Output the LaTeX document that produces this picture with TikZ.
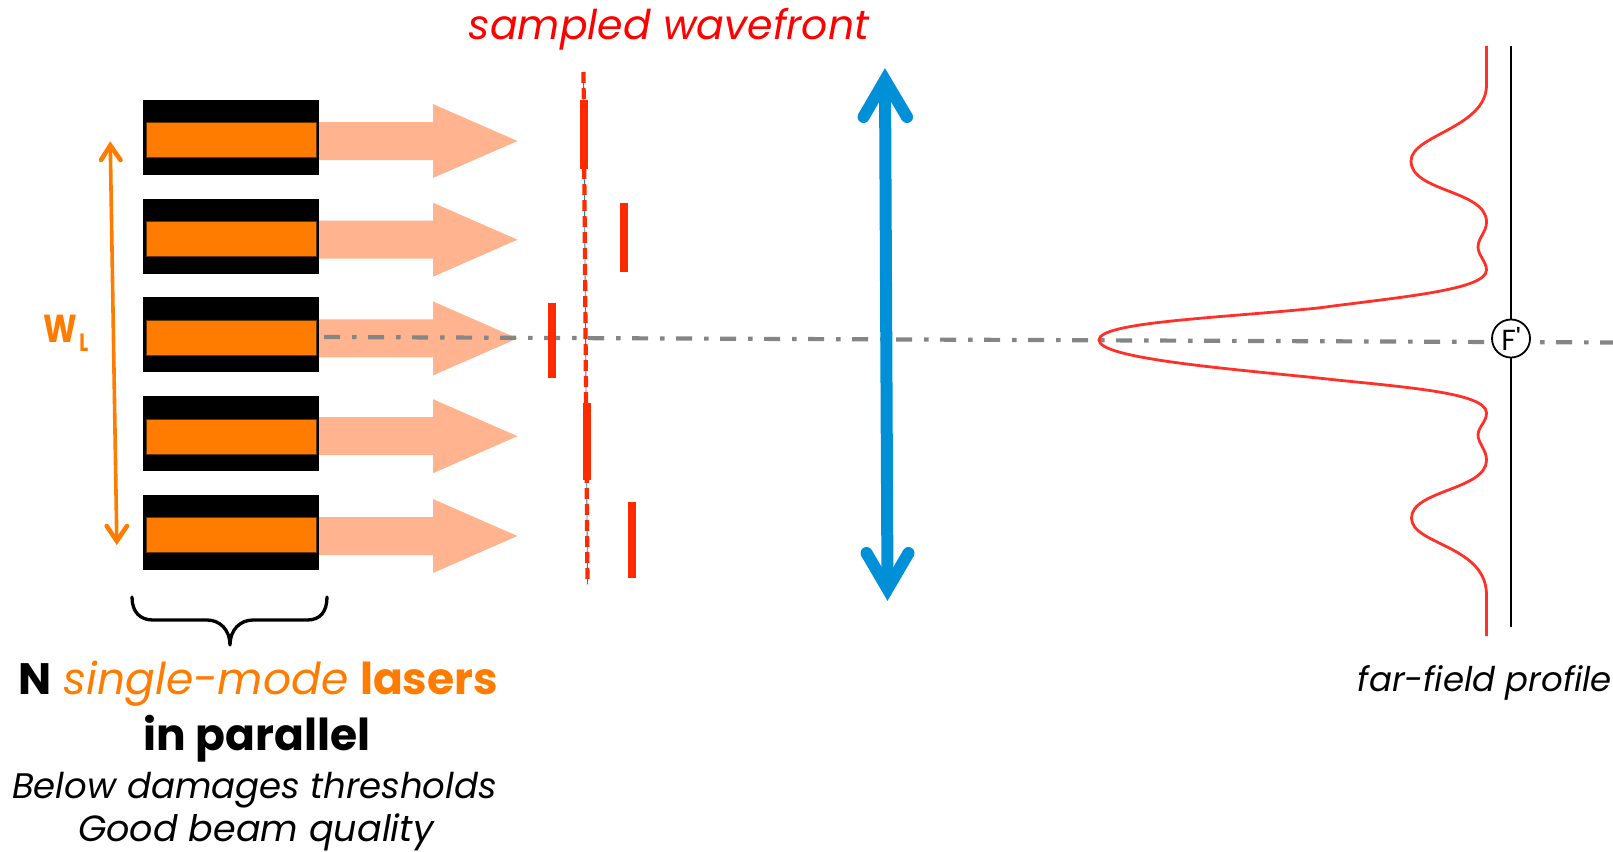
\documentclass[tikz,border=0pt]{standalone}
\usepackage{fontspec}
\setmainfont{Poppins}
\usetikzlibrary{calc}
\definecolor{lsrorange}{HTML}{FF7C00}
\definecolor{beampale}{HTML}{FFB48F}
\definecolor{barred}{HTML}{FF2A00}
\definecolor{curvered}{HTML}{FF3028}
\definecolor{axisgray}{HTML}{858585}
\definecolor{lensblue}{HTML}{0090D8}
\tikzset{x=1pt,y=-1pt,
  lsrbox/.style={fill=black,draw=none,minimum width=176pt,minimum height=75pt,inner sep=0pt,outer sep=0pt},
  lsrcore/.style={fill=lsrorange,draw=black!60!lsrorange,line width=.5pt,minimum width=170pt,minimum height=35pt,inner sep=0pt},
  beamarrow/.style={fill=beampale,draw=none},
  phasebar/.style={fill=barred,draw=none,minimum width=8pt,inner sep=0pt},
  lbl/.style={inner sep=0pt,anchor=base,align=center},
  lensline/.style={draw=lensblue,line width=12pt},
}
\begin{document}
\begin{tikzpicture}
\useasboundingbox (0,0) rectangle (1613,851);
% lasers and beams
\foreach \n/\t/\c in {1/99.8/141,2/198.5/239.7,3/297.3/338.4,4/396/436.2,5/494.8/536}{
  \fill[beamarrow] (319,\c-19) -- (433,\c-19) -- (433,\c-37) -- (517.5,\c) -- (433,\c+37) -- (433,\c+19) -- (319,\c+19) -- cycle;
  \node[lsrbox,anchor=north west] (box\n) at (143,\t) {};
  \node[lsrcore,anchor=north west] (core\n) at (146,\t+22.6) {};
}
% axis
\coordinate (axA) at (324,337);
\coordinate (axB) at (1613,342.5);
\draw[axisgray,line width=4.2pt,dash pattern=on 16pt off 12pt on 4.5pt off 11.5pt] (axA) -- (axB);
% sampled wavefront
\coordinate (wfA) at (583.5,72);
\coordinate (wfB) at (587.5,584);
\draw[lensblue,line width=.8pt] (wfA) -- (wfB);
\draw[barred,line width=4.2pt,dash pattern=on 11pt off 5pt] (wfA) -- (wfB);
\node[phasebar,minimum height=69pt] (bar1) at (583.5,134) {};
\node[phasebar,minimum height=69pt] (bar2) at (623.5,237) {};
\node[phasebar,minimum height=75pt] (bar3) at (551.5,340.5) {};
\node[phasebar,minimum height=77pt] (bar4) at (586.5,441) {};
\node[phasebar,minimum height=76pt] (bar5) at (631.5,539.5) {};
% lens
\coordinate (lensT) at (885,80);
\coordinate (lensB) at (887.5,589);
\draw[lensline] (lensT) -- (lensB);
\draw[lensline,line join=miter,miter limit=10] (863.5,117) -- (lensT) -- (907,117);
\draw[lensline,line join=miter,miter limit=10] (866.5,553) -- (lensB) -- (908.5,553);
\fill[lensblue] (863.5,117) circle (6pt) (907,117) circle (6pt) (866.5,553) circle (6pt) (908.5,553) circle (6pt);
% far field
\coordinate (ffA) at (1511,46);
\coordinate (ffB) at (1511,627);
\draw[black,line width=1.8pt] (ffA) -- (ffB);
\draw[curvered,line width=2.8pt] (1486.5,46) -- (1486.5,85)
 .. controls (1486.5,128) and (1411,135) .. (1411,161)
 .. controls (1411,192) and (1486.5,190) .. (1486.5,222)
 .. controls (1486.5,232) and (1478,238) .. (1478,247)
 .. controls (1478,255) and (1486.5,262) .. (1486.5,270)
 .. controls (1486.5,290) and (1400,297) .. (1318,308)
 .. controls (1220,318) and (1099,322) .. (1099,340)
 .. controls (1099,358) and (1220,368) .. (1318,378)
 .. controls (1400,387) and (1486.5,392) .. (1486.5,413)
 .. controls (1486.5,422) and (1478,427) .. (1478,435)
 .. controls (1478,443) and (1486.5,450) .. (1486.5,460)
 .. controls (1486.5,490) and (1411.5,490) .. (1411.5,518)
 .. controls (1411.5,545) and (1486.5,545) .. (1486.5,595)
 -- (1486.5,636);
\node[circle,draw=black,fill=white,line width=1.8pt,minimum size=38pt,inner sep=0pt,font=\fontsize{29}{29}\selectfont] (F) at (1511,338.5) {F\textquotesingle};
% WL arrow
\coordinate (wlT) at (110.3,145.5);
\coordinate (wlB) at (116.8,541);
\draw[lsrorange,line width=3.6pt] (wlT) -- (wlB);
\draw[lsrorange,line width=4.6pt,line cap=round,line join=miter,miter limit=10] (101,160) -- (wlT) -- (120.5,160);
\draw[lsrorange,line width=4.6pt,line cap=round,line join=miter,miter limit=10] (106.7,526) -- (wlB) -- (127,526);
\node[lbl,text=lsrorange,anchor=base west,font=\fontsize{39}{39}\selectfont\bfseries] (wl) at (43.5,342) {\scalebox{.82}[1]{W}\hspace{2pt}\raisebox{-9pt}{\fontsize{25}{25}\selectfont\scalebox{.75}[1]{L}}};
% brace
\coordinate (brTip) at (230,645);
\draw[black,line width=3.3pt,line join=round,line cap=round] (132,597) .. controls (132,612) and (140,620) .. (153,620) -- (207,620)
  .. controls (220,620) and (230,630) .. (brTip)
  .. controls (230,630) and (240,620) .. (253,620) -- (307,620)
  .. controls (320,620) and (327,612) .. (327,597);
% text
\node[lbl,font=\fontsize{44}{50}\selectfont] (t1) at (258.5,694) {\textbf{N} \textcolor{lsrorange}{\textit{single-mode} \textbf{lasers}}};
\node[lbl,font=\fontsize{44}{50}\selectfont\bfseries] (t2) at (257,750) {in parallel};
\node[lbl,font=\fontsize{35.5}{40}\selectfont\itshape] (t3) at (254.5,798) {Below damages thresholds};
\node[lbl,font=\fontsize{36.5}{40}\selectfont\itshape] (t4) at (256,841) {Good beam quality};
\node[lbl,text=red,font=\fontsize{41}{44}\selectfont\itshape] (t5) at (669,40) {sampled wavefront};
\node[lbl,font=\fontsize{34}{40}\selectfont\itshape] (t6) at (1485,691) {far-field profile};
\end{tikzpicture}
\end{document}
